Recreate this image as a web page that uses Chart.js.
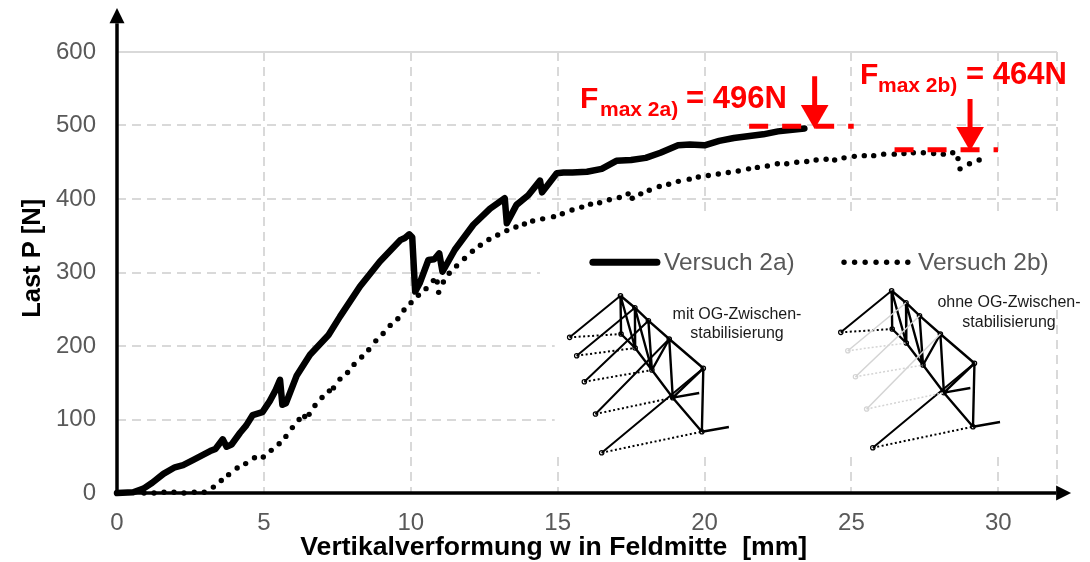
<!DOCTYPE html>
<html>
<head>
<meta charset="utf-8">
<title>Last-Verformung Versuch 2</title>
<script src="https://cdn.jsdelivr.net/npm/chart.js@4/dist/chart.umd.min.js"></script>
<style>
  html, body { margin: 0; padding: 0; background: #fff; }
  canvas { display: block; }
</style>
</head>
<body>
<canvas id="chart" width="1090" height="562"></canvas>
<script>
// w in mm, P in N
const v2aX = [0, 0.55, 0.9, 1.2, 1.58, 1.97, 2.25, 2.6, 3.17, 3.35, 3.6, 3.73, 3.9, 4.19, 4.4, 4.62, 4.95, 5.2, 5.4, 5.55, 5.63, 5.75, 6.12, 6.57, 7.2, 7.59, 8.27, 8.95, 9.64, 9.8, 9.95, 10.05, 10.15, 10.3, 10.6, 10.8, 10.97, 11.08, 11.5, 12.13, 12.7, 13.2, 13.27, 13.6, 14, 14.4, 14.47, 14.97, 15.2, 15.5, 16, 16.5, 17, 17.5, 18, 18.5, 19.1, 19.5, 20, 20.5, 21, 22, 22.5, 23.4];
const v2aY = [0, 1, 6, 14, 26, 35, 38, 45, 57, 60, 73, 63, 66, 82, 92, 106, 110, 125, 140, 154, 120, 122, 160, 188, 215, 240, 281, 315, 344, 347, 352, 348, 274, 285, 317, 318, 326, 301, 331, 365, 387, 401, 367, 392, 405, 425, 409, 435, 436, 436, 437, 441, 452, 453, 456, 463, 473, 474, 473, 479, 483, 488, 492, 496];

const v2bX = [0.92, 1.26, 1.6, 1.94, 2.28, 2.63, 2.97, 3.28, 3.55, 3.8, 4.09, 4.38, 4.68, 4.98, 5.25, 5.52, 5.75, 5.97, 6.2, 6.39, 6.54, 6.74, 6.98, 7.23, 7.37, 7.59, 7.85, 8.07, 8.33, 8.57, 8.81, 9.06, 9.3, 9.56, 9.77, 10.01, 10.26, 10.52, 10.77, 10.9, 10.95, 11.11, 11.31, 11.56, 11.83, 12.1, 12.37, 12.66, 12.96, 13.27, 13.58, 13.87, 14.15, 14.49, 14.86, 15.16, 15.49, 15.82, 16.12, 16.43, 16.76, 17.1, 17.4, 17.54, 17.83, 18.12, 18.46, 18.78, 19.11, 19.48, 19.79, 20.13, 20.47, 20.81, 21.15, 21.5, 21.8, 22.14, 22.48, 22.8, 23.14, 23.48, 23.8, 24.14, 24.43, 24.75, 25.1, 25.44, 25.76, 26.1, 26.46, 26.79, 27.11, 27.45, 27.8, 28.13, 28.45, 28.63, 28.7, 29.02, 29.35];
const v2bY = [0, 0, 1, 1, 0, 1, 1, 8, 17, 25, 34, 40, 48, 49, 58, 67, 77, 89, 100, 104, 107, 119, 130, 139, 143, 155, 164, 175, 185, 195, 207, 217, 228, 237, 249, 259, 269, 278, 289, 287, 273, 287, 299, 309, 319, 329, 337, 345, 351, 357, 362, 366, 370, 373, 376, 380, 385, 389, 393, 395, 399, 402, 407, 401, 407, 412, 417, 420, 424, 427, 430, 432, 434, 436, 438, 441, 443, 445, 448, 448, 450, 451, 453, 454, 453, 456, 458, 459, 459, 461, 461, 462, 463, 463, 462, 461, 463, 455, 441, 448, 453];

const xTicks = [0, 5, 10, 15, 20, 25, 30];
const yTicks = [0, 100, 200, 300, 400, 500, 600];

// red limit marks
const limit2aX = [21.52, 25.08];
const limit2aY = 499;
const limit2bX = [26.47, 29.99];
const limit2bY = 467;
const arrow2a = { x: 23.75, top: 567, head: 517 };
const arrow2b = { x: 29.04, top: 536, head: 487 };

// legend samples
const sampleSolidX = [16.2, 18.38];
const sampleDotsX = [24.75, 25.11, 25.47, 25.84, 26.2, 26.56, 26.92];
const sampleY = 314;

// small truss sketches, in the same mm / N units as the curves
const trussTop = [[17.14, 268.4], [17.63, 252.1], [18.09, 234.4], [18.8, 209.5], [19.96, 169.7]];
const trussBottom = [[17.16, 216.3], [17.64, 197.3], [18.21, 167.3], [18.92, 129.7], [19.91, 83.4]];
const trussOuter = [[15.41, 211.8], [15.65, 186.8], [15.91, 151.4], [16.29, 107.5], [16.5, 54.8]];
const trussWeb = [[0, 0], [0, 1], [1, 1], [1, 2], [2, 2], [3, 2], [3, 3], [4, 3], [4, 4]];
const trussTails = [[3, [19.82, 136.1]], [4, [20.83, 89.8]]];
const truss2Shift = [9.23, 6.8];

// axis ends, arrow tip and base in axis units
const yAxisEnd = { base: 639, tip: 660, halfWidth: 0.255 };
const xAxisEnd = { base: 31.97, tip: 32.48, halfWidth: 10.2 };

const INK = "#000";
const GRID = "#d9d9d9";
const GREY_TEXT = "#595959";
const RED = "#ff0000";
const FONT = '"Liberation Sans", Arial, sans-serif';

function pts(xs, ys) {
  return xs.map((x, i) => ({ x, y: Array.isArray(ys) ? ys[i] : ys }));
}

function segments(list, dx, dy) {
  const out = [];
  list.forEach((seg) => {
    seg.forEach((p) => out.push({ x: p[0] + dx, y: p[1] + dy }));
    out.push({ x: NaN, y: NaN });
  });
  return out;
}

function lineSet(data, color, width, extra) {
  return Object.assign(
    { data, borderColor: color, borderWidth: width, showLine: true, pointRadius: 0, clip: false },
    extra
  );
}

function trussSets(dx, dy, active) {
  const idx = [0, 1, 2, 3, 4];
  const on = idx.filter((i) => active.includes(i));
  const off = idx.filter((i) => !active.includes(i));
  const frame = [trussTop, trussBottom]
    .concat(trussWeb.map((w) => [trussTop[w[0]], trussBottom[w[1]]]))
    .concat(trussTails.map((t) => [trussBottom[t[0]], t[1]]));
  const nodes = trussTop.concat(trussBottom);
  const sets = [];
  const nodeStyle = { showLine: false, pointRadius: 2.2, pointBorderWidth: 1.2, pointBackgroundColor: "#fff" };

  if (off.length) {
    sets.push(lineSet(segments(off.map((i) => [trussOuter[i], trussTop[i]]), dx, dy), "#d4d4d4", 1.5));
    sets.push(lineSet(segments(off.map((i) => [trussOuter[i], trussBottom[i]]), dx, dy), "#d4d4d4", 1.5, { borderDash: [2, 2] }));
    sets.push(lineSet(segments(off.map((i) => [trussOuter[i]]), dx, dy), "#d4d4d4", 1, Object.assign({}, nodeStyle, { pointBorderColor: "#d4d4d4" })));
  }
  sets.push(lineSet(segments(on.map((i) => [trussOuter[i], trussTop[i]]), dx, dy), INK, 2));
  sets.push(lineSet(segments(on.map((i) => [trussOuter[i], trussBottom[i]]), dx, dy), INK, 2, { borderDash: [2, 2.5] }));
  sets.push(lineSet(segments(frame, dx, dy), INK, 2.4));
  sets.push(lineSet(segments(nodes.concat(on.map((i) => trussOuter[i])).map((n) => [n]), dx, dy), INK, 1, Object.assign({}, nodeStyle, { pointBorderColor: INK })));
  return sets;
}

function arrowSets(a, color, width, radius) {
  return [
    lineSet([{ x: a.x, y: a.top }, { x: a.x, y: a.head }], color, width),
    lineSet([{ x: a.x, y: a.head }], color, 0, {
      showLine: false, pointStyle: "triangle", pointRadius: radius, pointRotation: 180,
      pointBackgroundColor: color, pointBorderWidth: 0,
    }),
  ];
}

const datasets = [
  // right edge of the plot, broken where the legend sits
  lineSet([{ x: 32, y: 600 }, { x: 32, y: 381 }, { x: NaN, y: NaN }, { x: 32, y: 249 }, { x: 32, y: 0 }], GRID, 2, { borderDash: [9, 6] }),
  ...trussSets(0, 0, [0, 1, 2, 3, 4]),
  ...trussSets(truss2Shift[0], truss2Shift[1], [0, 4]),
  lineSet(pts(limit2aX, limit2aY), RED, 5, { borderDash: [19, 14] }),
  lineSet(pts(limit2bX, limit2bY), RED, 5, { borderDash: [19, 14] }),
  ...arrowSets(arrow2a, RED, 5, 16),
  ...arrowSets(arrow2b, RED, 5, 16),
  lineSet(pts(v2bX, v2bY), INK, 0, { showLine: false, pointRadius: 2.7, pointBackgroundColor: INK, pointBorderWidth: 0 }),
  lineSet(pts(v2aX, v2aY), INK, 6.5, { borderCapStyle: "round", borderJoinStyle: "round" }),
  lineSet(pts(sampleSolidX, sampleY), INK, 7, { borderCapStyle: "round" }),
  lineSet(pts(sampleDotsX, sampleY), INK, 0, { showLine: false, pointRadius: 2.7, pointBackgroundColor: INK, pointBorderWidth: 0 }),
  // axes
  lineSet([{ x: 0, y: 0 }, { x: 0, y: yAxisEnd.base }], INK, 3.5),
  lineSet([{ x: 0, y: 0 }, { x: xAxisEnd.base, y: 0 }], INK, 3.5),
];

// white areas behind legend and sketches, they break the grid there
const legendBoxes = [
  { x: [14.4, 32.4], y: [249, 381] },
  { x: [14.9, 31.97], y: [56, 249] },
];

const gridMask = {
  id: "gridMask",
  beforeDatasetsDraw(chart) {
    const { ctx, scales } = chart;
    ctx.save();
    ctx.fillStyle = "#fff";
    legendBoxes.forEach((b) => {
      const l = scales.x.getPixelForValue(b.x[0]);
      const r = scales.x.getPixelForValue(b.x[1]);
      const t = scales.y.getPixelForValue(b.y[1]);
      const u = scales.y.getPixelForValue(b.y[0]);
      ctx.fillRect(l, t, r - l, u - t);
    });
    ctx.restore();
  },
};

// point elements outside the plot area get skipped, so the two heads go here
const axisHeads = {
  id: "axisHeads",
  afterDatasetsDraw(chart) {
    const { ctx, scales } = chart;
    const px = (v) => scales.x.getPixelForValue(v);
    const py = (v) => scales.y.getPixelForValue(v);
    ctx.save();
    ctx.fillStyle = INK;
    ctx.beginPath();
    ctx.moveTo(px(0), py(yAxisEnd.tip));
    ctx.lineTo(px(-yAxisEnd.halfWidth), py(yAxisEnd.base));
    ctx.lineTo(px(yAxisEnd.halfWidth), py(yAxisEnd.base));
    ctx.closePath();
    ctx.fill();
    ctx.beginPath();
    ctx.moveTo(px(xAxisEnd.tip), py(0));
    ctx.lineTo(px(xAxisEnd.base), py(xAxisEnd.halfWidth));
    ctx.lineTo(px(xAxisEnd.base), py(-xAxisEnd.halfWidth));
    ctx.closePath();
    ctx.fill();
    ctx.restore();
  },
};

const notes = [
  { text: "F", x: 580, y: 108, font: "bold 30px", color: RED },
  { text: "max 2a)", x: 600, y: 116, font: "bold 21px", color: RED },
  { text: "= 496N", x: 686, y: 108, font: "bold 31px", color: RED },
  { text: "F", x: 860, y: 84, font: "bold 30px", color: RED },
  { text: "max 2b)", x: 878, y: 92, font: "bold 21px", color: RED },
  { text: "= 464N", x: 966, y: 84, font: "bold 31px", color: RED },
  { text: "Versuch 2a)", x: 664, y: 270, font: "24.5px", color: GREY_TEXT },
  { text: "Versuch 2b)", x: 918, y: 270, font: "24.5px", color: GREY_TEXT },
  { text: "mit OG-Zwischen-", x: 737, y: 319, font: "16px", color: "#1a1a1a", align: "center" },
  { text: "stabilisierung", x: 737, y: 338, font: "16px", color: "#1a1a1a", align: "center" },
  { text: "ohne OG-Zwischen-", x: 1009, y: 307, font: "16px", color: "#1a1a1a", align: "center" },
  { text: "stabilisierung", x: 1009, y: 327, font: "16px", color: "#1a1a1a", align: "center" },
];

const noteText = {
  id: "noteText",
  afterDraw(chart) {
    const { ctx } = chart;
    ctx.save();
    ctx.textBaseline = "alphabetic";
    notes.forEach((n) => {
      ctx.font = `${n.font} ${FONT}`;
      ctx.fillStyle = n.color;
      ctx.textAlign = n.align || "left";
      ctx.fillText(n.text, n.x, n.y);
    });
    ctx.restore();
  },
};

new Chart(document.getElementById("chart"), {
  type: "scatter",
  data: { datasets },
  plugins: [gridMask, axisHeads, noteText],
  options: {
    responsive: false,
    animation: false,
    events: [],
    layout: { padding: { top: 52, right: 33 } },
    plugins: { legend: { display: false }, tooltip: { enabled: false } },
    scales: {
      x: {
        type: "linear",
        min: 0,
        max: 32,
        afterFit(s) { s.height = 69; },
        afterBuildTicks(s) { s.ticks = xTicks.map((value) => ({ value })); },
        ticks: { padding: 16, color: GREY_TEXT, font: { family: FONT, size: 24 }, maxRotation: 0, autoSkip: false },
        grid: { color: GRID, lineWidth: 2, drawTicks: false },
        border: { display: false, dash: [9, 6] },
        title: {
          display: true,
          text: "Vertikalverformung w in Feldmitte  [mm]" + " ".repeat(9),
          color: INK,
          font: { family: FONT, size: 26.6, weight: "bold", lineHeight: 1.05 },
          padding: { top: 0, bottom: 0 },
        },
      },
      y: {
        type: "linear",
        min: 0,
        max: 600,
        afterFit(s) { s.width = 117; },
        afterBuildTicks(s) { s.ticks = yTicks.map((value) => ({ value })); },
        ticks: { padding: 21, color: GREY_TEXT, font: { family: FONT, size: 24 } },
        grid: { color: GRID, lineWidth: 2, drawTicks: false },
        border: {
          display: false,
          dash: (c) => (c.tick && c.tick.value === 600 ? [] : [9, 6]),
        },
        title: {
          display: true,
          text: " ".repeat(4) + "Last P [N]",
          color: INK,
          font: { family: FONT, size: 25.5, weight: "bold" },
          padding: { top: 18, bottom: 0 },
        },
      },
    },
  },
});
</script>
</body>
</html>
